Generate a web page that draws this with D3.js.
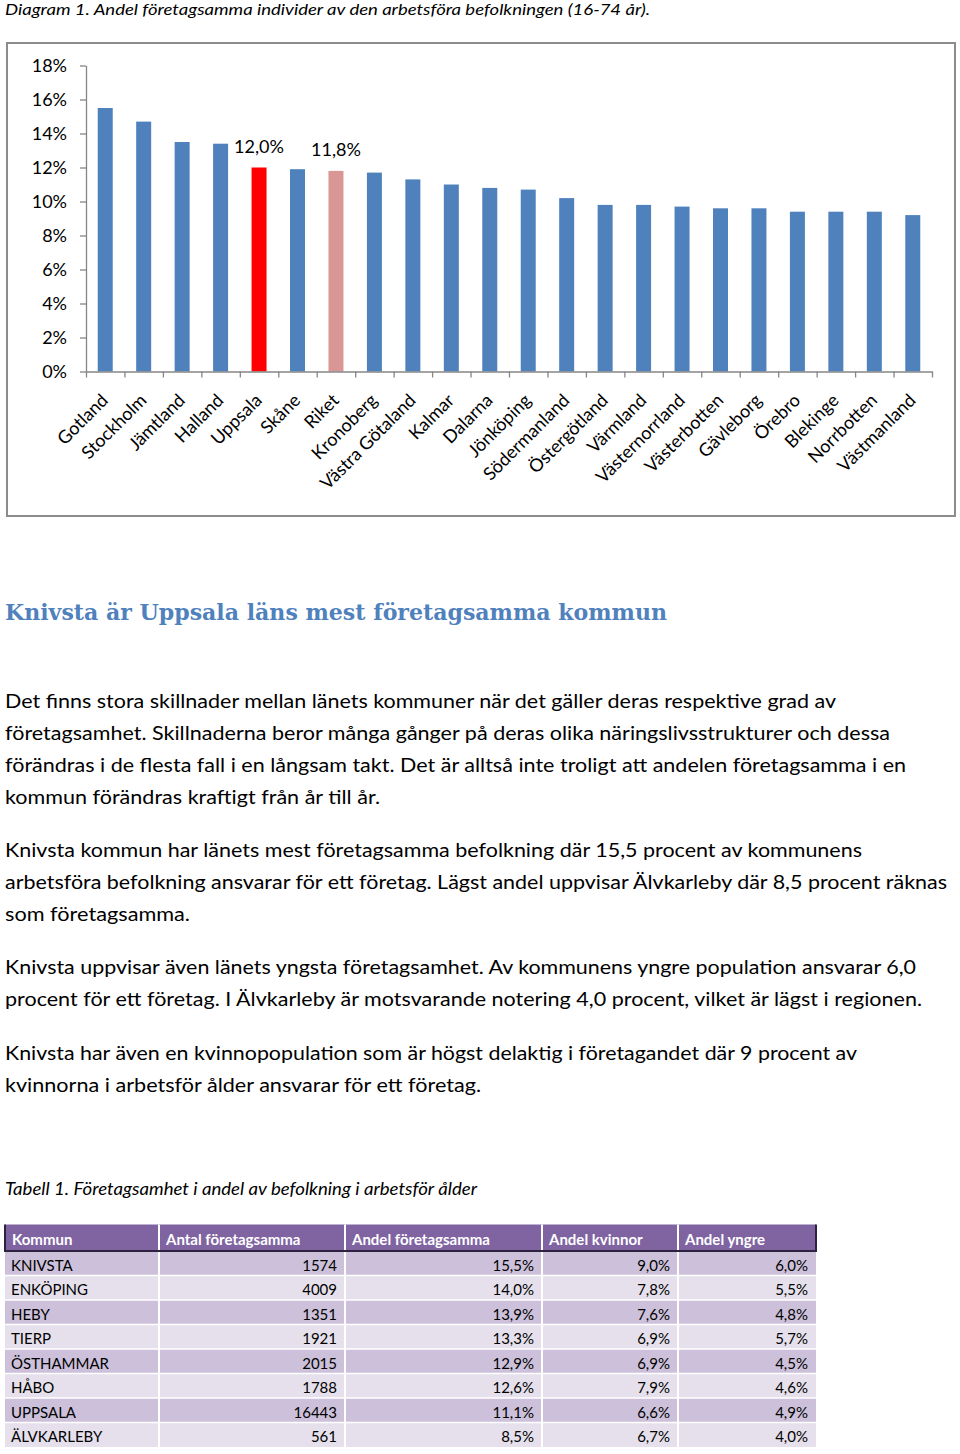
<!DOCTYPE html>
<html><head><meta charset="utf-8">
<script src="https://cdn.jsdelivr.net/npm/d3@7/dist/d3.min.js"></script>
<style>body{margin:0;background:#fff}svg{display:block}</style>
</head><body>
<script>
// ---- Chart data ----
const categories = ["Gotland","Stockholm","Jämtland","Halland","Uppsala","Skåne","Riket","Kronoberg","Västra Götaland","Kalmar","Dalarna","Jönköping","Södermanland","Östergötland","Värmland","Västernorrland","Västerbotten","Gävleborg","Örebro","Blekinge","Norrbotten","Västmanland"];
const values = [15.5,14.7,13.5,13.4,12.0,11.9,11.8,11.7,11.3,11.0,10.8,10.7,10.2,9.8,9.8,9.7,9.6,9.6,9.4,9.4,9.4,9.2];
const yTicks = [0,2,4,6,8,10,12,14,16,18];
const labelled = ["Uppsala","Riket"];

// ---- Table data ----
const tableHeaders = ["Kommun","Antal företagsamma","Andel företagsamma","Andel kvinnor","Andel yngre"];
const kommuner = ["KNIVSTA","ENKÖPING","HEBY","TIERP","ÖSTHAMMAR","HÅBO","UPPSALA","ÄLVKARLEBY"];
const antal = [1574,4009,1351,1921,2015,1788,16443,561];
const andelForetag = ["15,5%","14,0%","13,9%","13,3%","12,9%","12,6%","11,1%","8,5%"];
const andelKvinnor = ["9,0%","7,8%","7,6%","6,9%","6,9%","7,9%","6,6%","6,7%"];
const andelYngre = ["6,0%","5,5%","4,8%","5,7%","4,5%","4,6%","4,9%","4,0%"];

// ---- Texts ----
const diagramTitle = "Diagram 1. Andel företagsamma individer av den arbetsföra befolkningen (16-74 år).";
const heading = "Knivsta är Uppsala läns mest företagsamma kommun";
const paragraphs = [
  ["Det finns stora skillnader mellan länets kommuner när det gäller deras respektive grad av",
   "företagsamhet. Skillnaderna beror många gånger på deras olika näringslivsstrukturer och dessa",
   "förändras i de flesta fall i en långsam takt. Det är alltså inte troligt att andelen företagsamma i en",
   "kommun förändras kraftigt från år till år."],
  ["Knivsta kommun har länets mest företagsamma befolkning där 15,5 procent av kommunens",
   "arbetsföra befolkning ansvarar för ett företag. Lägst andel uppvisar Älvkarleby där 8,5 procent räknas",
   "som företagsamma."],
  ["Knivsta uppvisar även länets yngsta företagsamhet. Av kommunens yngre population ansvarar 6,0",
   "procent för ett företag. I Älvkarleby är motsvarande notering 4,0 procent, vilket är lägst i regionen."],
  ["Knivsta har även en kvinnopopulation som är högst delaktig i företagandet där 9 procent av",
   "kvinnorna i arbetsför ålder ansvarar för ett företag."]
];
const tableCaption = "Tabell 1. Företagsamhet i andel av befolkning i arbetsför ålder";

// ---- Layout (positions / sizes) ----
const paraBaselines = [[708,740,772,804],[857,889,921],[974,1006],[1060,1092]];
const paraWidths = [[831,885,901,375],[857,942,185],[911,917],[852,476]];
const SANS = "Lato, 'Open Sans', sans-serif";

const svg = d3.select("body").append("svg").attr("width",960).attr("height",1454);

// Title
svg.append("text").attr("x",5).attr("y",15).attr("font-family",SANS).attr("font-style","italic")
  .attr("font-size",16).attr("fill","#000").attr("textLength",645).attr("lengthAdjust","spacingAndGlyphs")
  .text(diagramTitle);

// Chart frame
svg.append("rect").attr("x",7).attr("y",43).attr("width",948).attr("height",473)
  .attr("fill","#fff").attr("stroke","#8c8c8c").attr("stroke-width",2);

const x = d3.scaleBand().domain(categories).range([86,932]).paddingInner(0.61).paddingOuter(0.305);
const y = d3.scaleLinear().domain([0,18]).range([371.5,65.5]);
const idx = d3.scaleLinear().domain([0,categories.length]).range([86,932]);

const g = svg.append("g");
// bars
g.selectAll("rect.bar").data(categories).join("rect").attr("class","bar")
  .attr("x",d=>x(d)).attr("width",x.bandwidth())
  .attr("y",(d,i)=>y(values[i])).attr("height",(d,i)=>y(0)-y(values[i]))
  .attr("fill",d=>d==="Uppsala"?"#FF0000":(d==="Riket"?"#D99694":"#4F81BD"));

// y axis
const yAxis = g.append("g").attr("transform","translate(86,0)")
  .call(d3.axisLeft(y).tickValues(yTicks).tickFormat(d=>d+"%").tickSize(6).tickSizeOuter(0));
yAxis.select(".domain").attr("stroke","#868686").attr("stroke-width",1.3);
yAxis.selectAll(".tick line").attr("stroke","#868686").attr("stroke-width",1.3);
yAxis.selectAll(".tick text").attr("font-family",SANS).attr("font-size",18).attr("fill","#000").attr("x",-19).attr("dy","0.35em");

// x axis
const xAxis = g.append("g").attr("transform","translate(0,371.5)")
  .call(d3.axisBottom(idx).tickValues(d3.range(categories.length+1)).tickFormat("").tickSize(6).tickSizeOuter(0));
xAxis.select(".domain").attr("stroke","#868686").attr("stroke-width",1.3);
xAxis.selectAll(".tick line").attr("stroke","#868686").attr("stroke-width",1.3);

// category labels
g.selectAll("text.cat").data(categories).join("text").attr("class","cat")
  .attr("transform",d=>`translate(${x(d)+x.bandwidth()/2+4},${371.5+30}) rotate(-45)`)
  .attr("text-anchor","end").attr("font-family",SANS).attr("font-size",18).attr("fill","#000")
  .text(d=>d);

// value labels
g.selectAll("text.val").data(categories.filter(c=>labelled.includes(c))).join("text").attr("class","val")
  .attr("x",d=>x(d)+x.bandwidth()/2).attr("y",d=>y(values[categories.indexOf(d)])-15)
  .attr("text-anchor","middle").attr("font-family",SANS).attr("font-size",18).attr("fill","#000")
  .text(d=>d3.format(".1f")(values[categories.indexOf(d)]).replace(".",",")+"%");

// Heading
svg.append("text").attr("x",5).attr("y",620).attr("font-family","'DejaVu Serif', serif").attr("font-weight","bold")
  .attr("font-size",22).attr("fill","#4F81BD").attr("textLength",662).attr("lengthAdjust","spacingAndGlyphs")
  .text(heading);

// Paragraphs
paragraphs.forEach((p,pi)=>{
  p.forEach((line,li)=>{
    svg.append("text").attr("x",5).attr("y",paraBaselines[pi][li]).attr("font-family",SANS)
      .attr("font-size",19.5).attr("fill","#000")
      .attr("textLength",paraWidths[pi][li]).attr("lengthAdjust","spacingAndGlyphs").text(line);
  });
});

// Table caption
svg.append("text").attr("x",5).attr("y",1195).attr("font-family",SANS).attr("font-style","italic")
  .attr("font-size",16.5).attr("fill","#000").attr("textLength",472).attr("lengthAdjust","spacingAndGlyphs")
  .text(tableCaption);

// Table
const colEdges = [5,159,345,542,678,816];
const headTop = 1224.5, headH = 26.5, rowH = 24.5;
const rows = kommuner.map((k,i)=>[k, String(antal[i]), andelForetag[i], andelKvinnor[i], andelYngre[i]]);
const tg = svg.append("g");
tg.append("rect").attr("x",colEdges[0]).attr("y",headTop).attr("width",colEdges[5]-colEdges[0]).attr("height",headH).attr("fill","#8064A2");
rows.forEach((r,ri)=>{
  tg.append("rect").attr("x",colEdges[0]).attr("y",headTop+headH+ri*rowH).attr("width",colEdges[5]-colEdges[0]).attr("height",rowH)
    .attr("fill",ri%2===0?"#CCC0DA":"#E5E0EC");
});
// white separators
colEdges.slice(1,5).forEach(cx=>{
  tg.append("line").attr("x1",cx).attr("x2",cx).attr("y1",headTop).attr("y2",headTop+headH+rows.length*rowH)
    .attr("stroke","#fff").attr("stroke-width",2);
});
rows.forEach((r,ri)=>{
  if(ri>0) tg.append("line").attr("x1",colEdges[0]).attr("x2",colEdges[5]).attr("y1",headTop+headH+ri*rowH).attr("y2",headTop+headH+ri*rowH)
    .attr("stroke","#fff").attr("stroke-width",1.5);
});
// header dark edges
tg.append("path").attr("d",`M${colEdges[0]},${headTop} V${headTop+headH} H${colEdges[5]} V${headTop}`)
  .attr("fill","none").attr("stroke","#2e2240").attr("stroke-width",2);
// header text
tableHeaders.forEach((h,ci)=>{
  tg.append("text").attr("x",colEdges[ci]+7).attr("y",headTop+20.5).attr("font-family",SANS)
    .attr("font-weight","bold").attr("font-size",15).attr("fill","#fff").text(h);
});
rows.forEach((r,ri)=>{
  r.forEach((v,ci)=>{
    tg.append("text").attr("x",ci===0?colEdges[0]+6:colEdges[ci+1]-8)
      .attr("y",headTop+headH+ri*rowH+19.5).attr("text-anchor",ci===0?"start":"end")
      .attr("font-family",SANS).attr("font-size",15).attr("fill","#000").text(v);
  });
});
</script>
</body></html>
